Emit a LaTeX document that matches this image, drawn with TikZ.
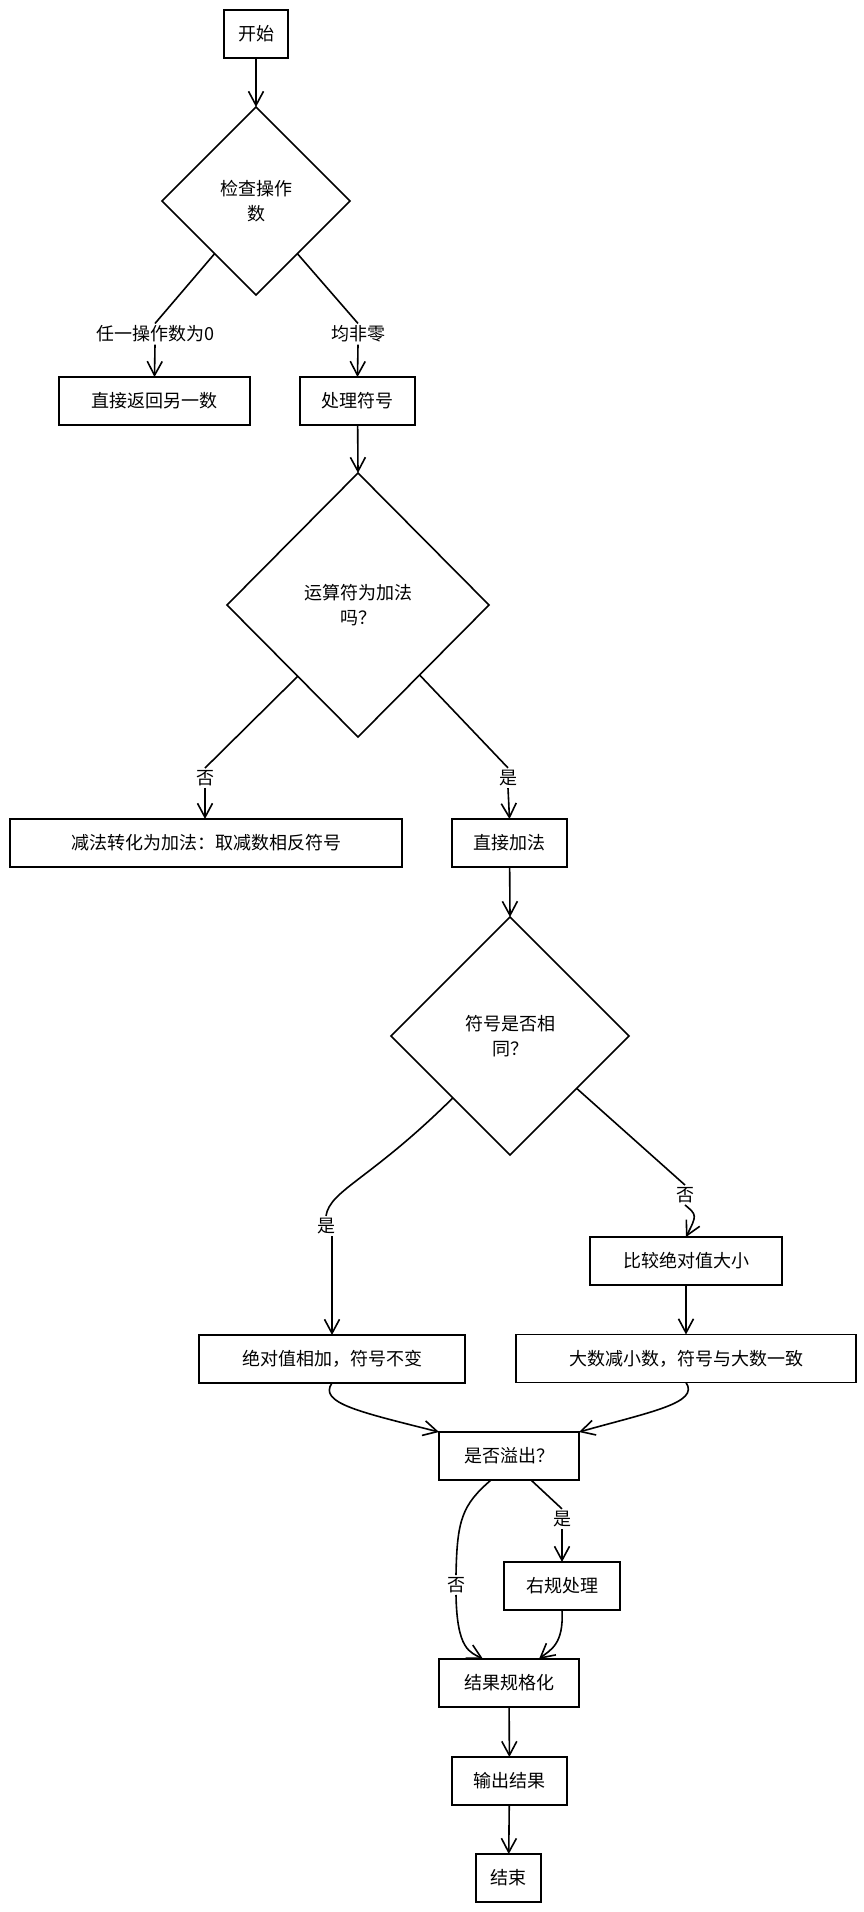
\documentclass[tikz,border=0pt]{standalone}
\usepackage{fontspec}
\setmainfont{Noto Sans CJK SC}
\usetikzlibrary{shapes.geometric,arrows.meta,calc}
\begin{document}
\begin{tikzpicture}[x=1pt,y=-1pt,
  txt/.style={font=\fontsize{18}{25}\selectfont},
  box/.style={txt,draw,line width=1.8pt,minimum height=48pt,inner sep=0pt,outer sep=0pt},
  dia/.style={txt,draw,diamond,line width=1.6pt,inner sep=0pt,outer sep=0pt,align=center},
  lab/.style={txt,inner sep=2pt},
  conn/.style={line width=1.6pt,-{Straight Barb[length=14pt,width=15pt]}},
  seg/.style={line width=1.6pt}]
\useasboundingbox (0,0) rectangle (863,1912);

% nodes
\node[box,minimum width=64pt] (start) at (256,34) {开始};
\node[dia,minimum width=188pt,minimum height=188pt] (d1) at (256,201) {检查操作\\数};
\node[box,minimum width=191pt] (ret) at (154.5,401) {直接返回另一数};
\node[box,minimum width=115pt] (sign) at (357.5,401) {处理符号};
\node[dia,minimum width=262pt,minimum height=264pt] (d2) at (358,605) {运算符为加法\\吗？};
\node[box,minimum width=392pt] (sub) at (206,843) {减法转化为加法：取减数相反符号};
\node[box,minimum width=115pt] (add) at (509.5,843) {直接加法};
\node[dia,minimum width=238pt,minimum height=238pt] (d3) at (510,1036) {符号是否相\\同？};
\node[box,minimum width=266pt] (same) at (332,1359) {绝对值相加，符号不变};
\node[box,minimum width=192pt] (cmp) at (686,1261) {比较绝对值大小};
\node[box,minimum width=340pt] (diff) at (686,1358.5) {大数减小数，符号与大数一致};
\node[box,minimum width=140pt] (ovf) at (509,1456) {是否溢出？};
\node[box,minimum width=116pt] (rn) at (562,1586) {右规处理};
\node[box,minimum width=140pt] (norm) at (509,1683) {结果规格化};
\node[box,minimum width=115pt] (out) at (509.5,1781) {输出结果};
\node[box,minimum width=65pt] (end) at (508.5,1878) {结束};

% labels
\node[lab] (l1) at (155,334) {任一操作数为0};
\node[lab] (l2) at (358,334) {均非零};
\node[lab] (l3) at (205,778) {否};
\node[lab] (l4) at (508,778) {是};
\node[lab] (l5) at (326,1226) {是};
\node[lab] (l6) at (685,1195) {否};
\node[lab] (l7) at (456,1585) {否};
\node[lab] (l8) at (562,1519) {是};

% connectors
\draw[conn] (start) -- (d1.north);
\draw[seg] ($(d1.west)!0.56!(d1.south)$) -- (l1.north);
\draw[conn] (l1.south) -- (ret.north);
\draw[seg] ($(d1.east)!0.56!(d1.south)$) -- (l2.north);
\draw[conn] (l2.south) -- (sign.north);
\draw[conn] (sign) -- (d2.north);

\draw[seg] ($(d2.west)!0.54!(d2.south)$) -- (l3.north);
\draw[conn] (l3.south) -- (sub.north -| l3.south);
\draw[seg] ($(d2.east)!0.53!(d2.south)$) -- (l4.north);
\draw[conn] (l4.south) -- (add.north);
\draw[conn] (add) -- (d3.north);

\draw[seg] ($(d3.west)!0.52!(d3.south)$) .. controls (370,1180) and (330,1190) .. (l5.north);
\draw[conn] (same.north |- l5.south) -- (same.north);
\draw[seg] ($(d3.east)!0.44!(d3.south)$) -- (l6.north);
\draw[conn] (l6.south) .. controls (697,1215) .. (cmp.north);
\draw[conn] (cmp) -- (diff);

\draw[conn] (same.south) .. controls (318,1403) and (360,1412) .. (ovf.north west);
\draw[conn] (diff.south) .. controls (700,1403) and (650,1412) .. (ovf.north east);

\draw[seg] ($(ovf.south)+(-18,0)$) .. controls (462,1505) and (457,1520) .. (l7.north);
\draw[conn] (l7.south) .. controls (457,1650) and (470,1652) .. ($(norm.north)+(-26,0)$);
\draw[seg] ($(ovf.south)+(22,0)$) -- (l8.north);
\draw[conn] (l8.south) -- (rn.north);
\draw[conn] (rn.south) .. controls (564,1645) and (550,1650) .. ($(norm.north)+(30,0)$);

\draw[conn] (norm) -- (out);
\draw[conn] (out) -- (end);
\end{tikzpicture}
\end{document}
